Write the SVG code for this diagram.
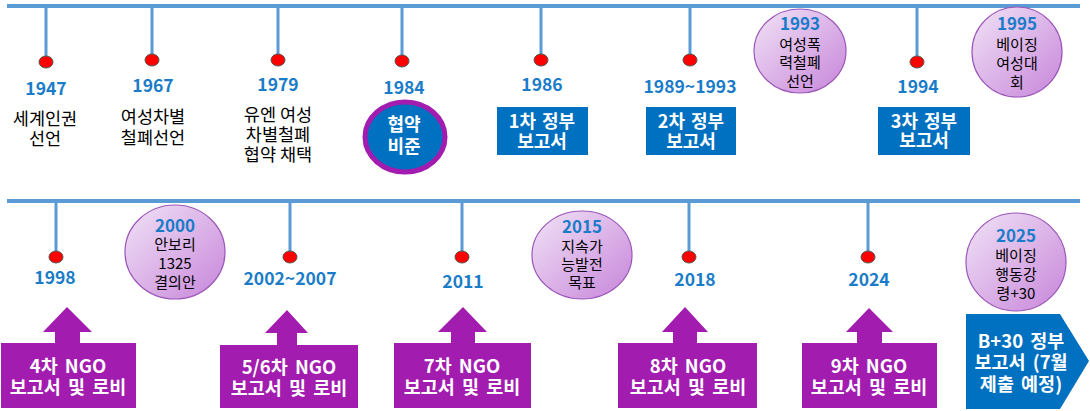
<svg xmlns="http://www.w3.org/2000/svg" width="1090" height="411" viewBox="0 0 1090 411">
<defs>
<linearGradient id="lav" x1="0" y1="0" x2="1" y2="1">
<stop offset="0" stop-color="#f1e3f6"/>
<stop offset="1" stop-color="#c785da"/>
</linearGradient>
</defs>
<style>
.line{stroke:#5b9bd5;stroke-width:4;fill:none}
.stem{stroke:#5b9bd5;stroke-width:3;fill:none}
.dot{fill:#ff0000;stroke:#555;stroke-width:1}
text{font-family:"Noto Sans CJK KR","Noto Sans",sans-serif;text-anchor:middle}
.yr{fill:#1a7cc8;font-size:17.5px;font-weight:bold}
.lbl{fill:#000;font-size:17.5px}
.wt{fill:#fff;font-size:18px;font-weight:bold;word-spacing:2px}
.pt{fill:#fff;font-size:18.5px;font-weight:bold;word-spacing:3px}
.ct{fill:#000;font-size:15px}
.cy{fill:#1a7cc8;font-size:17px;font-weight:bold}
.circ{fill:url(#lav);stroke:#9c55b8;stroke-width:1.2}
.blue{fill:#0070c0}
.purple{fill:#a21caf}
</style>
<g id="connectors">
<line class="line" x1="7" y1="6" x2="1080" y2="6"/>
<line class="line" x1="7" y1="201" x2="1080" y2="201"/>
<line class="stem" x1="46" y1="6" x2="46" y2="62"/>
<line class="stem" x1="152" y1="6" x2="152" y2="60"/>
<line class="stem" x1="278" y1="6" x2="278" y2="60"/>
<line class="stem" x1="402" y1="6" x2="402" y2="61"/>
<line class="stem" x1="541" y1="6" x2="541" y2="60"/>
<line class="stem" x1="690" y1="6" x2="690" y2="60"/>
<line class="stem" x1="917" y1="6" x2="917" y2="62"/>
<line class="stem" x1="56" y1="201" x2="56" y2="257"/>
<line class="stem" x1="290" y1="201" x2="290" y2="257"/>
<line class="stem" x1="462" y1="201" x2="462" y2="257"/>
<line class="stem" x1="689" y1="201" x2="689" y2="257"/>
<line class="stem" x1="868" y1="201" x2="868" y2="257"/>
</g>
<g id="n1947">
<ellipse class="dot" cx="46" cy="62" rx="7" ry="6"/>
<text class="yr" x="46" y="95">1947</text>
<text class="lbl" x="45" y="125">세계인권</text>
<text class="lbl" x="45" y="145">선언</text>
</g>
<g id="n1967">
<ellipse class="dot" cx="152" cy="60" rx="7" ry="6"/>
<text class="yr" x="153" y="92">1967</text>
<text class="lbl" x="153" y="123">여성차별</text>
<text class="lbl" x="153" y="144">철폐선언</text>
</g>
<g id="n1979">
<ellipse class="dot" cx="278" cy="60" rx="7" ry="6"/>
<text class="yr" x="278" y="91">1979</text>
<text class="lbl" x="278" y="121">유엔 여성</text>
<text class="lbl" x="278" y="141">차별철폐</text>
<text class="lbl" x="278" y="161">협약 채택</text>
</g>
<g id="n1984">
<ellipse class="dot" cx="402" cy="61" rx="7" ry="6"/>
<text class="yr" x="404" y="94">1984</text>
<ellipse cx="405" cy="137" rx="40" ry="35" fill="#0070c0" stroke="#a21caf" stroke-width="5"/>
<text class="wt" x="404" y="131">협약</text>
<text class="wt" x="404" y="153">비준</text>
</g>
<g id="n1986">
<ellipse class="dot" cx="541" cy="60" rx="7" ry="6"/>
<text class="yr" x="542" y="91">1986</text>
<rect class="blue" x="497" y="107" width="91" height="48"/>
<text class="wt" x="542" y="128">1차 정부</text>
<text class="wt" x="542" y="148">보고서</text>
</g>
<g id="n1989">
<ellipse class="dot" cx="690" cy="60" rx="7" ry="6"/>
<text class="yr" x="690" y="93">1989~1993</text>
<rect class="blue" x="646" y="107" width="90" height="48"/>
<text class="wt" x="691" y="128">2차 정부</text>
<text class="wt" x="691" y="148">보고서</text>
</g>
<g id="n1993">
<ellipse class="circ" cx="800" cy="51" rx="46" ry="42"/>
<text class="cy" x="800" y="30">1993</text>
<text class="ct" x="800" y="50">여성폭</text>
<text class="ct" x="800" y="68">력철폐</text>
<text class="ct" x="800" y="87">선언</text>
</g>
<g id="n1994">
<ellipse class="dot" cx="917" cy="62" rx="7" ry="6"/>
<text class="yr" x="918" y="93">1994</text>
<rect class="blue" x="878" y="107" width="92" height="48"/>
<text class="wt" x="924" y="128">3차 정부</text>
<text class="wt" x="924" y="147">보고서</text>
</g>
<g id="n1995">
<ellipse class="circ" cx="1017" cy="52" rx="45" ry="45"/>
<text class="cy" x="1017" y="30">1995</text>
<text class="ct" x="1017" y="50">베이징</text>
<text class="ct" x="1017" y="69">여성대</text>
<text class="ct" x="1017" y="88">회</text>
</g>
<g id="n1998">
<ellipse class="dot" cx="56" cy="257" rx="7" ry="6"/>
<text class="yr" x="55" y="284">1998</text>
<path class="purple" d="M1,408 L1,343 L55,343 L55,332 L43,332 L67,307 L92,332 L80,332 L80,343 L136,343 L136,408 Z"/>
<text class="pt" x="68" y="373">4차 NGO</text>
<text class="pt" x="68" y="394">보고서 및 로비</text>
</g>
<g id="n2000">
<ellipse class="circ" cx="175" cy="252" rx="50" ry="47"/>
<text class="cy" x="175" y="232">2000</text>
<text class="ct" x="175" y="250">안보리</text>
<text class="ct" x="175" y="269">1325</text>
<text class="ct" x="175" y="288">결의안</text>
</g>
<g id="n2002">
<ellipse class="dot" cx="290" cy="257" rx="7" ry="6"/>
<text class="yr" x="290" y="285">2002~2007</text>
<path class="purple" d="M220,408 L220,345 L277,345 L277,333 L265,333 L287,310 L308,333 L297,333 L297,345 L358,345 L358,408 Z"/>
<text class="pt" x="289" y="374">5/6차 NGO</text>
<text class="pt" x="289" y="395">보고서 및 로비</text>
</g>
<g id="n2011">
<ellipse class="dot" cx="462" cy="257" rx="7" ry="6"/>
<text class="yr" x="463" y="288">2011</text>
<path class="purple" d="M394,408 L394,343 L451,343 L451,332 L438,332 L463,307 L487,332 L475,332 L475,343 L531,343 L531,408 Z"/>
<text class="pt" x="462" y="373">7차 NGO</text>
<text class="pt" x="462" y="394">보고서 및 로비</text>
</g>
<g id="n2015">
<ellipse class="circ" cx="582" cy="255" rx="50" ry="44"/>
<text class="cy" x="582" y="233">2015</text>
<text class="ct" x="582" y="252">지속가</text>
<text class="ct" x="582" y="270">능발전</text>
<text class="ct" x="582" y="288">목표</text>
</g>
<g id="n2018">
<ellipse class="dot" cx="689" cy="257" rx="7" ry="6"/>
<text class="yr" x="695" y="286">2018</text>
<path class="purple" d="M618,408 L618,343 L673,343 L673,332 L662,332 L685,307 L708,332 L697,332 L697,343 L757,343 L757,408 Z"/>
<text class="pt" x="688" y="373">8차 NGO</text>
<text class="pt" x="688" y="394">보고서 및 로비</text>
</g>
<g id="n2024">
<ellipse class="dot" cx="868" cy="257" rx="7" ry="6"/>
<text class="yr" x="869" y="286">2024</text>
<path class="purple" d="M802,408 L802,343 L857,343 L857,332 L846,332 L869,308 L893,332 L882,332 L882,343 L937,343 L937,408 Z"/>
<text class="pt" x="869" y="373">9차 NGO</text>
<text class="pt" x="869" y="394">보고서 및 로비</text>
</g>
<g id="n2025">
<ellipse class="circ" cx="1016" cy="262" rx="50" ry="49"/>
<text class="cy" x="1016" y="242">2025</text>
<text class="ct" x="1016" y="261">베이징</text>
<text class="ct" x="1016" y="280">행동강</text>
<text class="ct" x="1016" y="299">령+30</text>
<path class="blue" d="M966,314 L1060,314 L1089,361 L1060,409 L966,409 Z"/>
<text class="pt" x="1021" y="348">B+30 정부</text>
<text class="pt" x="1021" y="369">보고서 (7월</text>
<text class="pt" x="1021" y="391">제출 예정)</text>
</g>
</svg>
